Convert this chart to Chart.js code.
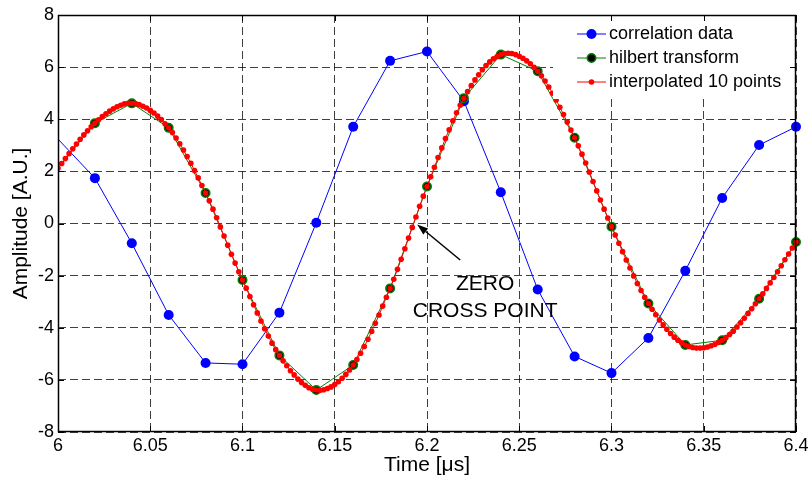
<!DOCTYPE html>
<html><head><meta charset="utf-8">
<script src="https://cdn.jsdelivr.net/npm/chart.js@4.4.1/dist/chart.umd.min.js"></script>
<style>html,body{margin:0;padding:0;background:#fff;}canvas{display:block;}</style>
</head><body>
<canvas id="c" width="812" height="480"></canvas>
<script>
// ---- data ----
const timeCoarse = [6.00,6.02,6.04,6.06,6.08,6.10,6.12,6.14,6.16,6.18,6.20,6.22,6.24,6.26,6.28,6.30,6.32,6.34,6.36,6.38,6.40];
const correlationData = [3.24,1.74,-0.76,-3.51,-5.35,-5.40,-3.42,0.03,3.71,6.24,6.60,4.69,1.20,-2.53,-5.10,-5.74,-4.39,-1.81,0.98,3.01,3.71];
const hilbertData = [2.12,3.85,4.61,3.67,1.17,-2.17,-5.06,-6.39,-5.43,-2.49,1.42,4.81,6.48,5.84,3.29,-0.12,-3.07,-4.66,-4.48,-2.89,-0.71];
const interpStart = 6.0, interpStep = 0.002;
const interpolatedData = [
 2.12, 2.30, 2.49, 2.68, 2.87, 3.05, 3.23, 3.40, 3.56, 3.71,
 3.85, 3.98, 4.10, 4.21, 4.31, 4.40, 4.48, 4.54, 4.59, 4.61,
 4.61, 4.60, 4.56, 4.50, 4.43, 4.34, 4.24, 4.12, 3.99, 3.83,
 3.67, 3.49, 3.28, 3.06, 2.82, 2.57, 2.31, 2.03, 1.75, 1.46,
 1.17, 0.87, 0.55, 0.22, -0.13, -0.48, -0.83, -1.18, -1.52, -1.85,
 -2.17, -2.48, -2.80, -3.12, -3.43, -3.74, -4.04, -4.32, -4.59, -4.84,
 -5.06, -5.27, -5.46, -5.65, -5.81, -5.97, -6.10, -6.21, -6.30, -6.36,
 -6.39, -6.40, -6.38, -6.33, -6.27, -6.18, -6.07, -5.94, -5.79, -5.62,
 -5.43, -5.22, -4.98, -4.72, -4.44, -4.14, -3.83, -3.51, -3.17, -2.83,
 -2.49, -2.14, -1.76, -1.37, -0.97, -0.56, -0.15, 0.25, 0.66, 1.05,
 1.42, 1.79, 2.16, 2.53, 2.90, 3.26, 3.60, 3.94, 4.25, 4.54,
 4.81, 5.06, 5.29, 5.51, 5.71, 5.90, 6.06, 6.20, 6.32, 6.41,
 6.48, 6.52, 6.53, 6.52, 6.48, 6.42, 6.34, 6.24, 6.13, 5.99,
 5.84, 5.67, 5.47, 5.24, 5.00, 4.74, 4.46, 4.18, 3.89, 3.59,
 3.29, 2.98, 2.66, 2.32, 1.97, 1.61, 1.25, 0.90, 0.55, 0.21,
 -0.12, -0.44, -0.76, -1.08, -1.40, -1.71, -2.01, -2.30, -2.57, -2.83,
 -3.07, -3.29, -3.50, -3.70, -3.89, -4.06, -4.22, -4.36, -4.48, -4.58,
 -4.66, -4.72, -4.76, -4.78, -4.78, -4.77, -4.74, -4.69, -4.64, -4.56,
 -4.48, -4.38, -4.26, -4.13, -3.97, -3.81, -3.64, -3.45, -3.27, -3.08,
 -2.89, -2.70, -2.49, -2.28, -2.07, -1.85, -1.62, -1.39, -1.17, -0.94,
 -0.71];
const xTickValues = [6,6.05,6.1,6.15,6.2,6.25,6.3,6.35,6.4];
const xTickLabels = ['6','6.05','6.1','6.15','6.2','6.25','6.3','6.35','6.4'];
const yTickValues = [-8,-6,-4,-2,0,2,4,6,8];
const yTickLabels = ['-8','-6','-4','-2','0','2','4','6','8'];
const seriesLabels = ['correlation data','hilbert transform','interpolated 10 points'];
const annotationLines = ['ZERO','CROSS POINT'];
const arrowTip = [6.1947, -0.04];
const arrowTail = [6.218, -1.40];
const annotationX = 6.2315;
const annotationBaselines = [-2.56, -3.60];

// ---- build ----
const FONT = '"Liberation Sans", Arial, Helvetica, sans-serif';
Chart.defaults.font.family = FONT;
Chart.defaults.color = '#000';
const timeFine = interpolatedData.map((_, i) => Math.round((interpStart + i * interpStep) * 1000) / 1000);
const toXY = (xs, ys) => ys.map((v, i) => ({x: xs[i], y: v}));

const styles = [
  {line: '#0000ff', fill: '#0000ff', edge: '#0000ff', r: 5, bw: 0},
  {line: '#008000', fill: '#000000', edge: '#008000', r: 4.2, bw: 1.6},
  {line: '#ff0000', fill: '#ff0000', edge: '#ff0000', r: 2.8, bw: 0}
];

const overlay = {
  id: 'overlay',
  afterDatasetsDraw(chart) {
    const {ctx, chartArea: ca, scales: {x, y}} = chart;
    ctx.save();
    // annotation arrow
    const tx = x.getPixelForValue(arrowTip[0]), ty = y.getPixelForValue(arrowTip[1]);
    const sx = x.getPixelForValue(arrowTail[0]), sy = y.getPixelForValue(arrowTail[1]);
    const ang = Math.atan2(ty - sy, tx - sx);
    const hl = 11, hw = 3.8;
    const bx = tx - hl * Math.cos(ang), by = ty - hl * Math.sin(ang);
    ctx.strokeStyle = '#000'; ctx.fillStyle = '#000'; ctx.lineWidth = 1.5;
    ctx.beginPath(); ctx.moveTo(sx, sy); ctx.lineTo(bx, by); ctx.stroke();
    ctx.beginPath(); ctx.moveTo(tx, ty);
    ctx.lineTo(bx + hw * Math.sin(ang), by - hw * Math.cos(ang));
    ctx.lineTo(bx - hw * Math.sin(ang), by + hw * Math.cos(ang));
    ctx.closePath(); ctx.fill();
    ctx.font = '21px ' + FONT;
    ctx.textAlign = 'center'; ctx.textBaseline = 'alphabetic';
    annotationLines.forEach((t, i) => ctx.fillText(t, x.getPixelForValue(annotationX), y.getPixelForValue(annotationBaselines[i])));
    // legend
    const lx0 = ca.right - 243, ly0 = ca.top + 1, lw = 242, lh = 83;
    ctx.fillStyle = '#fff';
    ctx.fillRect(lx0, ly0, lw, lh);
    ctx.font = '18px ' + FONT;
    ctx.textAlign = 'left'; ctx.textBaseline = 'middle';
    seriesLabels.forEach((lab, i) => {
      const st = styles[i];
      const ry = ca.top + 19 + i * 24;
      const x1 = ca.right - 219, x2 = ca.right - 190, xm = (x1 + x2) / 2;
      ctx.strokeStyle = st.line; ctx.lineWidth = 1;
      ctx.beginPath(); ctx.moveTo(x1, ry); ctx.lineTo(x2, ry); ctx.stroke();
      ctx.beginPath(); ctx.arc(xm, ry, st.r, 0, Math.PI * 2);
      ctx.fillStyle = st.fill; ctx.fill();
      if (st.bw) { ctx.lineWidth = st.bw; ctx.strokeStyle = st.edge; ctx.stroke(); }
      ctx.fillStyle = '#000';
      ctx.fillText(lab, ca.right - 187, ry);
    });
    ctx.restore();
  },
  afterDraw(chart) {
    const {ctx, chartArea: ca, scales: {x, y}} = chart;
    ctx.save();
    ctx.strokeStyle = '#000'; ctx.lineWidth = 1;
    const tk = 6;
    ctx.beginPath();
    xTickValues.forEach(v => {
      const px = Math.round(x.getPixelForValue(v)) + 0.5;
      ctx.moveTo(px, ca.bottom); ctx.lineTo(px, ca.bottom - tk);
      ctx.moveTo(px, ca.top); ctx.lineTo(px, ca.top + tk);
    });
    yTickValues.forEach(v => {
      const py = Math.round(y.getPixelForValue(v)) + 0.5;
      ctx.moveTo(ca.left, py); ctx.lineTo(ca.left + tk, py);
      ctx.moveTo(ca.right, py); ctx.lineTo(ca.right - tk, py);
    });
    ctx.stroke();
    ctx.lineWidth = 1.5;
    ctx.strokeRect(ca.left + 0.5, ca.top + 0.5, ca.right - ca.left - 1, ca.bottom - ca.top - 1);
    ctx.restore();
  }
};

const clip = {left: 0, top: 8, right: 8, bottom: 8};
new Chart(document.getElementById('c'), {
  type: 'line',
  data: {
    datasets: [
      {label: seriesLabels[0], data: toXY(timeCoarse, correlationData), order: 2, clip,
       borderColor: styles[0].line, borderWidth: 1, backgroundColor: styles[0].fill,
       pointRadius: c => c.dataIndex === 0 ? 0 : styles[0].r, pointBorderWidth: 0,
       pointBackgroundColor: styles[0].fill, pointBorderColor: styles[0].edge},
      {label: seriesLabels[1], data: toXY(timeCoarse, hilbertData), order: 1, clip,
       borderColor: styles[1].line, borderWidth: 1, backgroundColor: styles[1].fill,
       pointRadius: c => c.dataIndex === 0 ? 0 : styles[1].r, pointBorderWidth: styles[1].bw,
       pointBackgroundColor: styles[1].fill, pointBorderColor: styles[1].edge},
      {label: seriesLabels[2], data: toXY(timeFine, interpolatedData), order: 0, clip,
       borderColor: styles[2].line, borderWidth: 1, backgroundColor: styles[2].fill,
       pointRadius: styles[2].r, pointBorderWidth: 0,
       pointBackgroundColor: styles[2].fill, pointBorderColor: styles[2].edge}
    ]
  },
  options: {
    responsive: false, animation: false, devicePixelRatio: 1,
    layout: {padding: {left: 0, right: 16, top: 15, bottom: 0}},
    elements: {line: {tension: 0}, point: {hoverRadius: 0}},
    plugins: {legend: {display: false}, tooltip: {enabled: false}},
    events: [],
    scales: {
      x: {
        type: 'linear', min: 6, max: 6.4,
        afterBuildTicks: s => { s.ticks = xTickValues.map(v => ({value: v})); },
        afterFit: s => { s.height = 48; },
        ticks: {font: {size: 18}, padding: 3, maxRotation: 0, autoSkip: false,
                callback: v => xTickLabels[xTickValues.findIndex(t => Math.abs(t - v) < 1e-9)]},
        grid: {color: 'rgba(0,0,0,0.75)', lineWidth: 1, drawTicks: false},
        border: {display: false, dash: [8, 4]},
        title: {display: true, text: 'Time [μs]', font: {size: 21}, padding: {top: 0, bottom: 2}}
      },
      y: {
        type: 'linear', min: -8, max: 8,
        afterBuildTicks: s => { s.ticks = yTickValues.map(v => ({value: v})); },
        afterFit: s => { s.width = 58; },
        ticks: {font: {size: 18}, padding: 4, autoSkip: false,
                callback: v => yTickLabels[yTickValues.indexOf(v)]},
        grid: {color: 'rgba(0,0,0,0.75)', lineWidth: 1, drawTicks: false},
        border: {display: false, dash: [8, 4]},
        title: {display: true, text: 'Amplitude [A.U.]', font: {size: 21}, padding: {top: 9, bottom: 0}}
      }
    }
  },
  plugins: [overlay]
});
</script>
</body></html>
